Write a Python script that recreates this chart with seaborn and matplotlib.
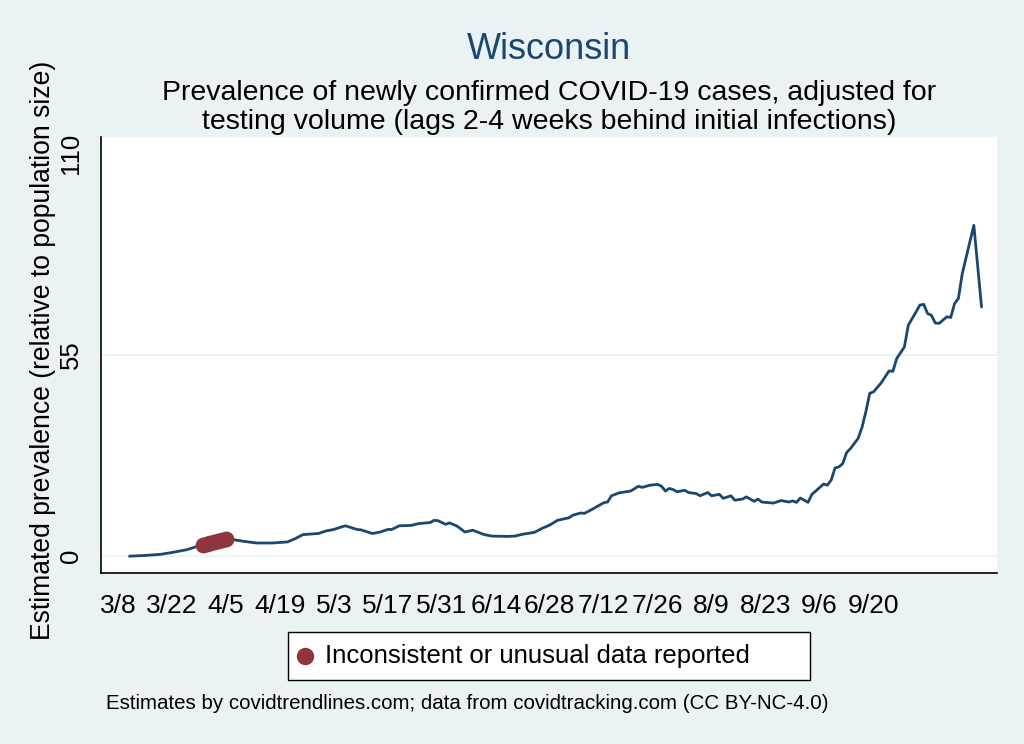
import numpy as np
import pandas as pd
import matplotlib.pyplot as plt
import seaborn as sns
from matplotlib.patches import Rectangle

# Estimated prevalence (days since 3/8, value)
start = pd.Timestamp('2020-03-08')
days = [3, 7, 11, 14, 16, 18, 20, 22, 23, 24, 25, 26, 27, 28, 30, 33, 36, 40, 44, 46,
        48, 52, 54, 56, 58, 59, 62, 63, 66, 68, 70, 71, 73, 76, 78, 81, 82, 83, 85, 86,
        88, 90, 92, 95, 97, 101, 103, 105, 108, 110, 112, 114, 117, 118, 120, 121, 123, 126, 127, 128,
        130, 133, 135, 136, 138, 140, 141, 142, 143, 144, 145, 147, 148, 150, 151, 153, 154, 156, 157, 159,
        160, 162, 163, 165, 166, 167, 170, 172, 174, 175, 176, 177, 179, 180, 181, 183, 184, 185, 186, 187,
        188, 189, 190, 192, 193, 194, 195, 196, 198, 200, 201, 202, 204, 205, 207, 208, 209, 210, 211, 212,
        213, 215, 216, 217, 218, 219, 222, 224]
prevalence = [0.0, 0.2, 0.5, 1.0, 1.4, 1.8, 2.5, 3.0, 3.3, 3.6, 3.9, 4.2, 4.4, 4.6, 4.5, 4.0, 3.6, 3.6, 3.9, 4.8,
              5.9, 6.2, 6.9, 7.3, 8.0, 8.3, 7.3, 7.2, 6.2, 6.6, 7.3, 7.3, 8.3, 8.4, 8.9, 9.2, 9.8, 9.7, 8.7, 9.1,
              8.2, 6.6, 7.1, 5.9, 5.5, 5.4, 5.5, 6.0, 6.5, 7.6, 8.5, 9.8, 10.5, 11.2, 11.8, 11.7, 12.8, 14.6, 14.8, 16.5,
              17.3, 17.8, 19.1, 18.8, 19.4, 19.6, 19.1, 17.8, 18.5, 18.2, 17.6, 18.0, 17.4, 17.1, 16.5, 17.4, 16.5, 16.9, 15.8, 16.5,
              15.3, 15.6, 16.2, 15.0, 15.6, 14.8, 14.5, 15.2, 14.8, 15.1, 14.7, 15.9, 14.7, 16.9, 17.8, 19.7, 19.4, 20.8, 24.1, 24.4,
              25.3, 28.3, 29.4, 32.2, 35.2, 39.5, 44.5, 44.9, 47.4, 50.6, 50.5, 54.0, 57.2, 63.1, 66.7, 68.6, 68.8, 66.3, 65.8, 63.7,
              63.6, 65.4, 65.2, 69.0, 70.4, 77.2, 90.4, 68.1]

# days flagged as inconsistent / unusual
flag_days = [22, 23, 24, 25, 26, 27, 28]

df = pd.DataFrame({'date': start + pd.to_timedelta(days, unit='D'), 'value': prevalence})
flags = df[df['date'].isin(start + pd.to_timedelta(flag_days, unit='D'))]

bg = '#eaf2f3'
navy = '#1a476f'
maroon = '#90353b'

sns.set_style('white')
plt.rcParams['font.family'] = ['Liberation Sans', 'DejaVu Sans']
plt.rcParams['text.color'] = 'black'
plt.rcParams['axes.labelcolor'] = 'black'
plt.rcParams['xtick.color'] = 'black'
plt.rcParams['ytick.color'] = 'black'

fig = plt.figure(figsize=(10.24, 7.44), dpi=100, facecolor=bg)
ax = fig.add_axes([0.0986, 0.2298, 0.875, 0.586])
ax.set_facecolor('white')

ax.axhline(55, color=bg, lw=1.3, zorder=0)
ax.axhline(0, color=bg, lw=1.3, zorder=0)

sns.lineplot(data=df, x='date', y='value', color=navy, lw=2.0, ax=ax, zorder=2)
sns.scatterplot(data=flags, x='date', y='value', color=maroon, s=130, edgecolor=maroon,
                linewidth=0, ax=ax, zorder=3, label='Inconsistent or unusual data reported')

ax.set_xlim(start - pd.Timedelta(days=4.4), start + pd.Timedelta(days=228))
ax.set_ylim(-4.6, 114.5)

major = pd.date_range('2020-03-08', '2020-09-20', freq='14D')
minor = pd.date_range('2020-03-15', '2020-10-18', freq='14D')
ax.set_xticks(major)
ax.set_xticklabels([f'{d.month}/{d.day}' for d in major], fontsize=19)
ax.set_xticks(minor, minor=True)
ax.tick_params(axis='x', which='major', length=10, width=1.2, pad=5)
ax.tick_params(axis='x', which='minor', length=5, width=1.2)

ax.set_yticks([0, 55, 110])
ax.set_yticklabels(['0', '55', '110'], rotation=90, va='center', fontsize=18.5)
ax.tick_params(axis='y', length=9, width=1.2, pad=4)

for side in ['top', 'right']:
    ax.spines[side].set_visible(False)
for side in ['left', 'bottom']:
    ax.spines[side].set_color('black')
    ax.spines[side].set_linewidth(1.2)

ax.set_xlabel('')
ax.set_ylabel('Estimated prevalence (relative to population size)', fontsize=19.1)
ax.yaxis.set_label_coords(-0.050, 0.511)

fig.text(0.536, 0.933, 'Wisconsin', ha='center', va='center', fontsize=26, color=navy)
fig.text(0.536, 0.856, 'Prevalence of newly confirmed COVID-19 cases, adjusted for\n'
         'testing volume (lags 2-4 weeks behind initial infections)',
         ha='center', va='center', fontsize=20.5, linespacing=1.15)
fig.text(0.104, 0.054, 'Estimates by covidtrendlines.com; data from covidtracking.com (CC BY-NC-4.0)',
         ha='left', va='center', fontsize=14.8)

# legend box like Stata's, wider than its contents
fig.patches.append(Rectangle((288 / 1024, 1 - 680 / 744), 522 / 1024, 48 / 744,
                             transform=fig.transFigure, facecolor='white',
                             edgecolor='black', lw=1.0, zorder=1))
ax.legend_.remove()
h, l = ax.get_legend_handles_labels()
leg = fig.legend(h, l, loc='center left', bbox_to_anchor=(292 / 1024, 1 - 656 / 744), fontsize=18.5,
                 frameon=False, borderpad=0, handlelength=1.0, handletextpad=0.3,
                 borderaxespad=0, markerscale=1.1)
leg.set_zorder(2)

fig.savefig('out.png', dpi=100, facecolor=bg)
